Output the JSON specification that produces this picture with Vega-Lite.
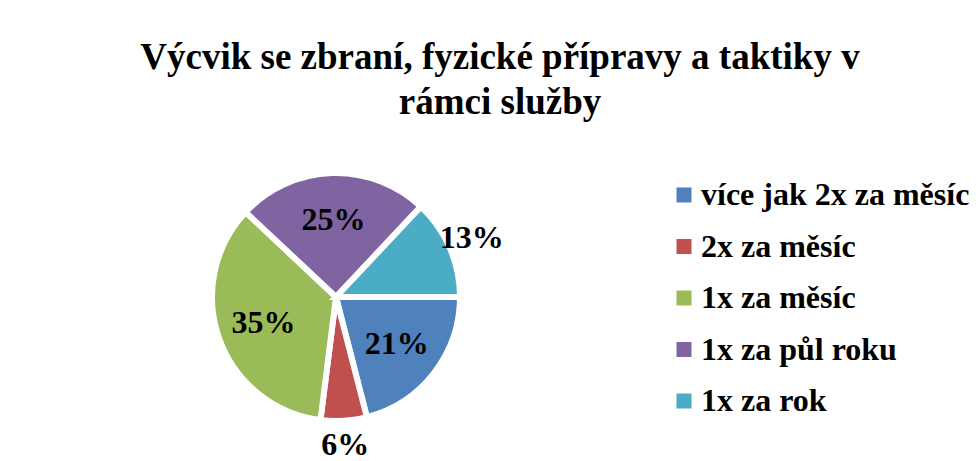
{
  "$schema": "https://vega.github.io/schema/vega-lite/v6.json",
  "autosize": "none",
  "width": 670,
  "height": 328,
  "padding": {"left": 1, "top": 133, "right": 309, "bottom": 0},
  "background": "white",
  "config": {"view": {"stroke": null}},
  "title": {
    "text": ["Výcvik se zbraní, fyzické přípravy a taktiky v", "rámci služby"],
    "font": "Liberation Serif, Times New Roman, serif",
    "fontSize": 37,
    "fontWeight": "bold",
    "lineHeight": 45,
    "color": "black",
    "anchor": "middle",
    "dx": 164,
    "offset": 11
  },
  "data": {
    "values": [
      {"category": "více jak 2x za měsíc", "value": 0.21, "order": 1},
      {"category": "2x za měsíc", "value": 0.06, "order": 2},
      {"category": "1x za měsíc", "value": 0.35, "order": 3},
      {"category": "1x za půl roku", "value": 0.25, "order": 4},
      {"category": "1x za rok", "value": 0.13, "order": 5}
    ]
  },
  "layer": [
    {
      "mark": {"type": "arc", "outerRadius": 124, "stroke": "white", "strokeWidth": 6, "strokeJoin": "miter"},
      "encoding": {
        "theta": {"field": "value", "type": "quantitative", "stack": true, "scale": {"range": [1.5707963, 7.8539816]}},
        "order": {"field": "order", "type": "quantitative"},
        "color": {
          "field": "category",
          "type": "nominal",
          "sort": ["více jak 2x za měsíc", "2x za měsíc", "1x za měsíc", "1x za půl roku", "1x za rok"],
          "scale": {"range": ["#4F81BD", "#C0504D", "#9BBB59", "#8064A2", "#4BACC6"]},
          "legend": {
            "orient": "none",
            "legendX": 667,
            "legendY": 46,
            "title": null,
            "symbolType": "square",
            "symbolSize": 225,
            "symbolStrokeWidth": 0,
            "labelFont": "Liberation Serif, Times New Roman, serif",
            "labelFontSize": 32,
            "labelFontWeight": "bold",
            "labelColor": "black",
            "labelOffset": 1,
            "labelLimit": 400,
            "rowPadding": 19.5
          }
        }
      }
    },
    {
      "mark": {"type": "text", "font": "Liberation Serif, Times New Roman, serif", "fontSize": 32, "fontWeight": "bold", "color": "black"},
      "encoding": {
        "theta": {"field": "value", "type": "quantitative", "stack": true},
        "order": {"field": "order", "type": "quantitative"},
        "detail": {"field": "category", "type": "nominal"},
        "radius": {"field": "value", "type": "quantitative", "scale": {"type": "linear", "domain": [0.13, 0.21], "range": [148, 77], "clamp": true, "zero": false}},
        "text": {"field": "value", "type": "quantitative", "format": ".0%"}
      }
    }
  ]
}
